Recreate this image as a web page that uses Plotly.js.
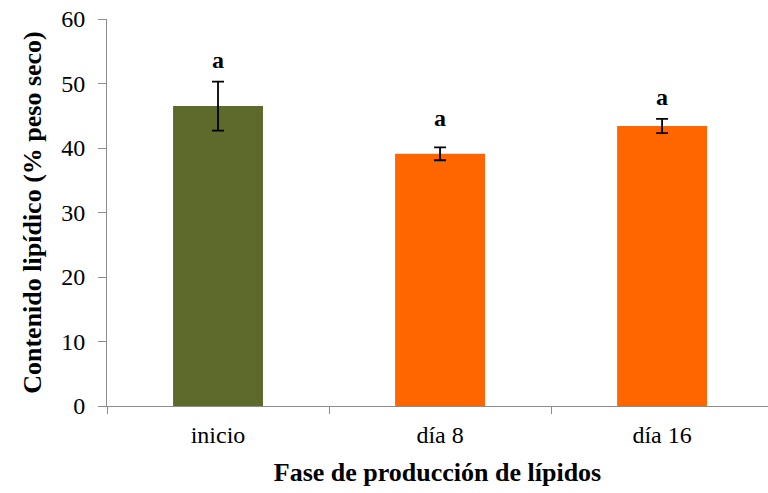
<!DOCTYPE html>
<html><head><meta charset="utf-8">
<script src="https://cdn.plot.ly/plotly-3.0.1.min.js"></script>
<style>html,body{margin:0;padding:0;background:#fff}</style>
</head><body><div id="chart" style="width:768px;height:493px"></div>
<script>
const categories = ["inicio", "día 8", "día 16"];
const values = [46.5, 39.1, 43.4];
const errors = [3.8, 1.0, 1.1];
const letters = ["a", "a", "a"];
const barColors = ["#5E6A2B", "#FF6600", "#FF6600"];
const letterShift = [22, 29, 22];

const trace = {
  type: "bar",
  x: categories,
  y: values,
  width: 0.405,
  marker: {color: barColors, line: {width: 0}},
  error_y: {type: "data", array: errors, visible: true, color: "#000", thickness: 1.8, width: 6},
  hoverinfo: "none"
};

const annotations = categories.map((c, i) => ({
  x: c, y: values[i] + errors[i], xref: "x", yref: "y",
  text: "<b>" + letters[i] + "</b>", showarrow: false,
  yanchor: "middle", yshift: letterShift[i],
  font: {family: "Liberation Serif, Times New Roman, serif", size: 24, color: "#000"}
}));

const layout = {
  width: 768, height: 493,
  margin: {l: 107, r: 0, t: 19, b: 87, pad: 0},
  paper_bgcolor: "#fff", plot_bgcolor: "#fff",
  showlegend: false,
  font: {family: "Liberation Serif, Times New Roman, serif", size: 24, color: "#000"},
  xaxis: {
    type: "category", range: [-0.5, 2.477],
    showline: true, linecolor: "#8c8c8c", linewidth: 1,
    ticks: "outside", tickson: "boundaries", ticklen: 7, tickcolor: "#8c8c8c",
    showgrid: false, zeroline: false,
    tickfont: {size: 24},
    ticklabelstandoff: 7,
    title: {text: "<b>Fase de producción de lípidos</b>", font: {size: 26}, standoff: 16}
  },
  yaxis: {
    range: [0, 60], dtick: 10,
    showline: true, linecolor: "#8c8c8c", linewidth: 1,
    ticks: "outside", ticklen: 8, tickcolor: "#8c8c8c",
    showgrid: false, zeroline: false,
    tickfont: {size: 24},
    ticklabelstandoff: 8,
    title: {text: "<b>Contenido lipídico (% peso seco)</b>", font: {size: 26}, standoff: 12}
  },
  annotations: annotations
};

Plotly.newPlot("chart", [trace], layout, {staticPlot: true, displayModeBar: false});
</script></body></html>
